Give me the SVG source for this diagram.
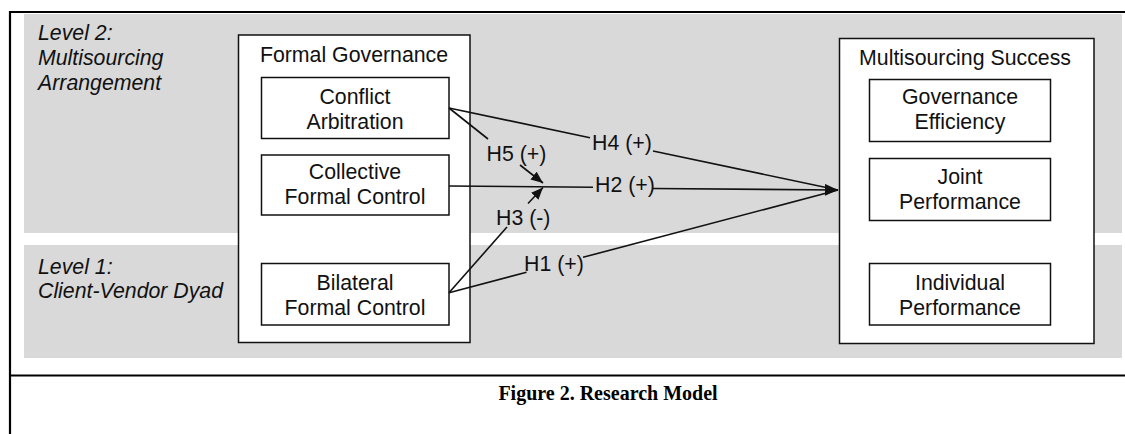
<svg xmlns="http://www.w3.org/2000/svg" width="1125" height="434" viewBox="0 0 1125 434">
<defs>
<style>
.t{font-family:"Liberation Sans",Arial,sans-serif;font-size:21.3px;fill:#111;}
.c{text-anchor:middle;}
.i{font-style:italic;}
.box{fill:#fff;stroke:#111;stroke-width:1.5;}
.band{fill:#d9d9d9;}
.ln{stroke:#111;stroke-width:1.6;fill:none;}
.frame{stroke:#000;stroke-width:2.2;fill:none;}
.cap{font-family:"Liberation Serif","Times New Roman",serif;font-size:20px;font-weight:bold;fill:#000;text-anchor:middle;}
</style>
<marker id="ah" markerUnits="userSpaceOnUse" markerWidth="14" markerHeight="12" refX="13" refY="6" orient="auto">
<path d="M0,0 L13,6 L0,12 z" fill="#111"/>
</marker>
<marker id="as" markerUnits="userSpaceOnUse" markerWidth="13" markerHeight="10" refX="12" refY="5" orient="auto">
<path d="M0,0 L12,5 L0,10 z" fill="#111"/>
</marker>
</defs>
<g id="background">
<rect class="band" x="24" y="14" width="1098" height="219"/>
<rect class="band" x="24" y="245" width="1098" height="113"/>
<path class="frame" d="M1125,12 H10 V434 M10,375.5 H1125"/>
</g>
<g id="level2">
<text class="t i" x="38" y="40">Level 2:</text>
<text class="t i" x="38" y="65">Multisourcing</text>
<text class="t i" x="38" y="90">Arrangement</text>
</g>
<g id="level1">
<text class="t i" x="38" y="274">Level 1:</text>
<text class="t i" x="38" y="298">Client-Vendor Dyad</text>
</g>
<g id="formal-governance">
<rect class="box" x="238.5" y="35" width="231.5" height="307.5"/>
<text class="t c" x="354" y="62">Formal Governance</text>
</g>
<g id="conflict-arbitration">
<rect class="box" x="261.5" y="77.5" width="187.5" height="61"/>
<text class="t c" x="355" y="104">Conflict</text>
<text class="t c" x="355" y="129">Arbitration</text>
</g>
<g id="collective-formal-control">
<rect class="box" x="261.5" y="155" width="187.5" height="60"/>
<text class="t c" x="355" y="178.5">Collective</text>
<text class="t c" x="355" y="203.5">Formal Control</text>
</g>
<g id="bilateral-formal-control">
<rect class="box" x="261.5" y="263.5" width="187.5" height="61.5"/>
<text class="t c" x="355" y="290">Bilateral</text>
<text class="t c" x="355" y="314.5">Formal Control</text>
</g>
<g id="multisourcing-success">
<rect class="box" x="839.5" y="38.5" width="254.5" height="305"/>
<text class="t c" x="965" y="65">Multisourcing Success</text>
</g>
<g id="governance-efficiency">
<rect class="box" x="869.5" y="79.5" width="181" height="62"/>
<text class="t c" x="960" y="104">Governance</text>
<text class="t c" x="960" y="129">Efficiency</text>
</g>
<g id="joint-performance">
<rect class="box" x="869.5" y="158.5" width="181" height="62"/>
<text class="t c" x="960" y="183.5">Joint</text>
<text class="t c" x="960" y="209">Performance</text>
</g>
<g id="individual-performance">
<rect class="box" x="869.5" y="263.5" width="181" height="61.5"/>
<text class="t c" x="960" y="290">Individual</text>
<text class="t c" x="960" y="314.5">Performance</text>
</g>
<g id="connectors">
<path class="ln" d="M449,108 L590,137.7"/>
<path class="ln" d="M653,151 L838,190"/>
<path class="ln" d="M449,186 L593,187.3"/>
<path class="ln" d="M653,188.5 L838,190" marker-end="url(#ah)"/>
<path class="ln" d="M449,292.7 L526.5,272.3"/>
<path class="ln" d="M583,257.3 L838,190"/>
<path class="ln" d="M449,108 L488,139"/>
<path class="ln" d="M520,165 L543,183" marker-end="url(#as)"/>
<path class="ln" d="M449,292.7 L507,227"/>
<path class="ln" d="M528,203.5 L543,187.5" marker-end="url(#as)"/>
<text class="t" x="592" y="150">H4 (+)</text>
<text class="t" x="595" y="192">H2 (+)</text>
<text class="t" x="486.5" y="161">H5 (+)</text>
<text class="t" x="496" y="225">H3 (-)</text>
<text class="t" x="524" y="270.5">H1 (+)</text>
</g>
<g id="caption">
<text class="cap" x="608" y="400">Figure 2. Research Model</text>
</g>
</svg>
